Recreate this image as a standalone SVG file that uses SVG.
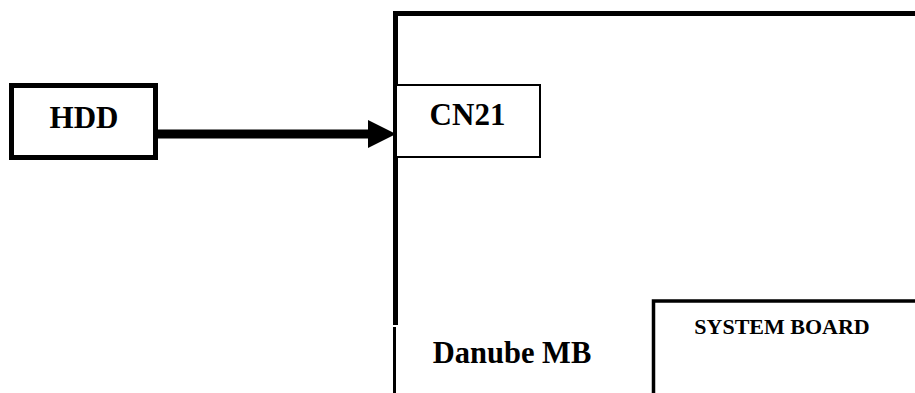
<svg xmlns="http://www.w3.org/2000/svg" width="915" height="393" viewBox="0 0 915 393">
<style>
.t{font-family:"Liberation Serif","Times New Roman",serif;font-weight:bold;fill:#000;text-anchor:middle}
.box{fill:#fff;stroke:#000}
.ln{stroke:#000;fill:none}
</style>
<rect width="915" height="393" fill="#fff"/>
<g id="danube-mb">
<path class="ln" d="M395.5 325 V13.5 H915" stroke-width="5"/>
<path class="ln" d="M394.5 327 V393" stroke-width="3"/>
<text class="t" x="512" y="363" font-size="30.5">Danube MB</text>
</g>
<g id="system-board">
<path class="ln" d="M653.5 393 V301 H915" stroke-width="3.5"/>
<text class="t" x="782" y="334" font-size="22">SYSTEM BOARD</text>
</g>
<g id="hdd">
<rect class="box" x="11.5" y="85.5" width="144" height="72" stroke-width="5"/>
<text class="t" x="84" y="128" font-size="31">HDD</text>
</g>
<g id="connectors">
<line class="ln" x1="158" y1="134" x2="370" y2="134" stroke-width="9"/>
<polygon points="368,120 396,134 368,148" fill="#000"/>
</g>
<g id="cn21">
<rect class="box" x="396" y="85" width="144" height="72" stroke-width="2"/>
<text class="t" x="467.5" y="125" font-size="31">CN21</text>
</g>
</svg>
